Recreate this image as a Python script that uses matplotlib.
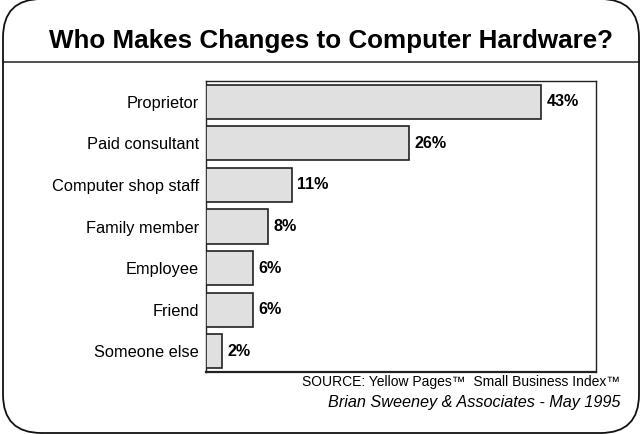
import matplotlib
matplotlib.use("Agg")
import matplotlib.pyplot as plt
from matplotlib.patches import FancyBboxPatch
from matplotlib.lines import Line2D

categories = ["Proprietor", "Paid consultant", "Computer shop staff",
              "Family member", "Employee", "Friend", "Someone else"]
values = [43, 26, 11, 8, 6, 6, 2]
value_labels = ["43%", "26%", "11%", "8%", "6%", "6%", "2%"]

title = "Who Makes Changes to Computer Hardware?"
source_line = "SOURCE: Yellow Pages\u2122  Small Business Index\u2122"
credit_line = "Brian Sweeney & Associates - May 1995"

plt.rcParams['font.family'] = ['Liberation Sans', 'DejaVu Sans']

W, H = 641, 434
fig = plt.figure(figsize=(W / 100, H / 100), dpi=100)
fig.patch.set_facecolor("white")

# rounded outer frame
frame = FancyBboxPatch((3 / W, 1 / H), 636 / W, 434 / H,
                       boxstyle="round,pad=0,rounding_size=0.06",
                       transform=fig.transFigure, fill=False,
                       edgecolor="#111111", linewidth=1.3,
                       mutation_aspect=W / H, zorder=5)
fig.patches.append(frame)

# rule under the title
fig.lines.append(Line2D([3 / W, 639 / W], [1 - 62 / H, 1 - 62 / H],
                        transform=fig.transFigure, color="#333333", lw=1.2))

fig.text(331 / W, 1 - 41 / H, title, ha="center", va="center",
         fontsize=18.7, fontweight="bold", color="black")

ax = fig.add_axes([206 / W, 1 - 372 / H, 390 / W, 291 / H])
ypos = list(range(len(categories)))
ax.barh(ypos, values, height=0.82, color="#e0e0e0",
        edgecolor="#222222", linewidth=1.2, zorder=3)
ax.set_ylim(len(categories) - 0.5, -0.5)
ax.set_xlim(0, 50)
ax.set_xticks([])
ax.set_yticks(ypos)
ax.set_yticklabels(categories, fontsize=11.8)
ax.tick_params(axis="y", length=0, pad=5)
for s in ax.spines.values():
    s.set_color("#222222")
    s.set_linewidth(1.0)
ax.spines["bottom"].set_linewidth(1.6)

for y, v, lab in zip(ypos, values, value_labels):
    ax.annotate(lab, (v, y), xytext=(4, 0), textcoords="offset points",
                ha="left", va="center", fontsize=11.6, fontweight="bold")

fig.text(620 / W, 1 - 382 / H, source_line, ha="right", va="center",
         fontsize=10, color="black")
fig.text(620 / W, 1 - 403 / H, credit_line, ha="right", va="center",
         fontsize=11.7, style="italic", color="black")

fig.savefig("out.png", dpi=100)
